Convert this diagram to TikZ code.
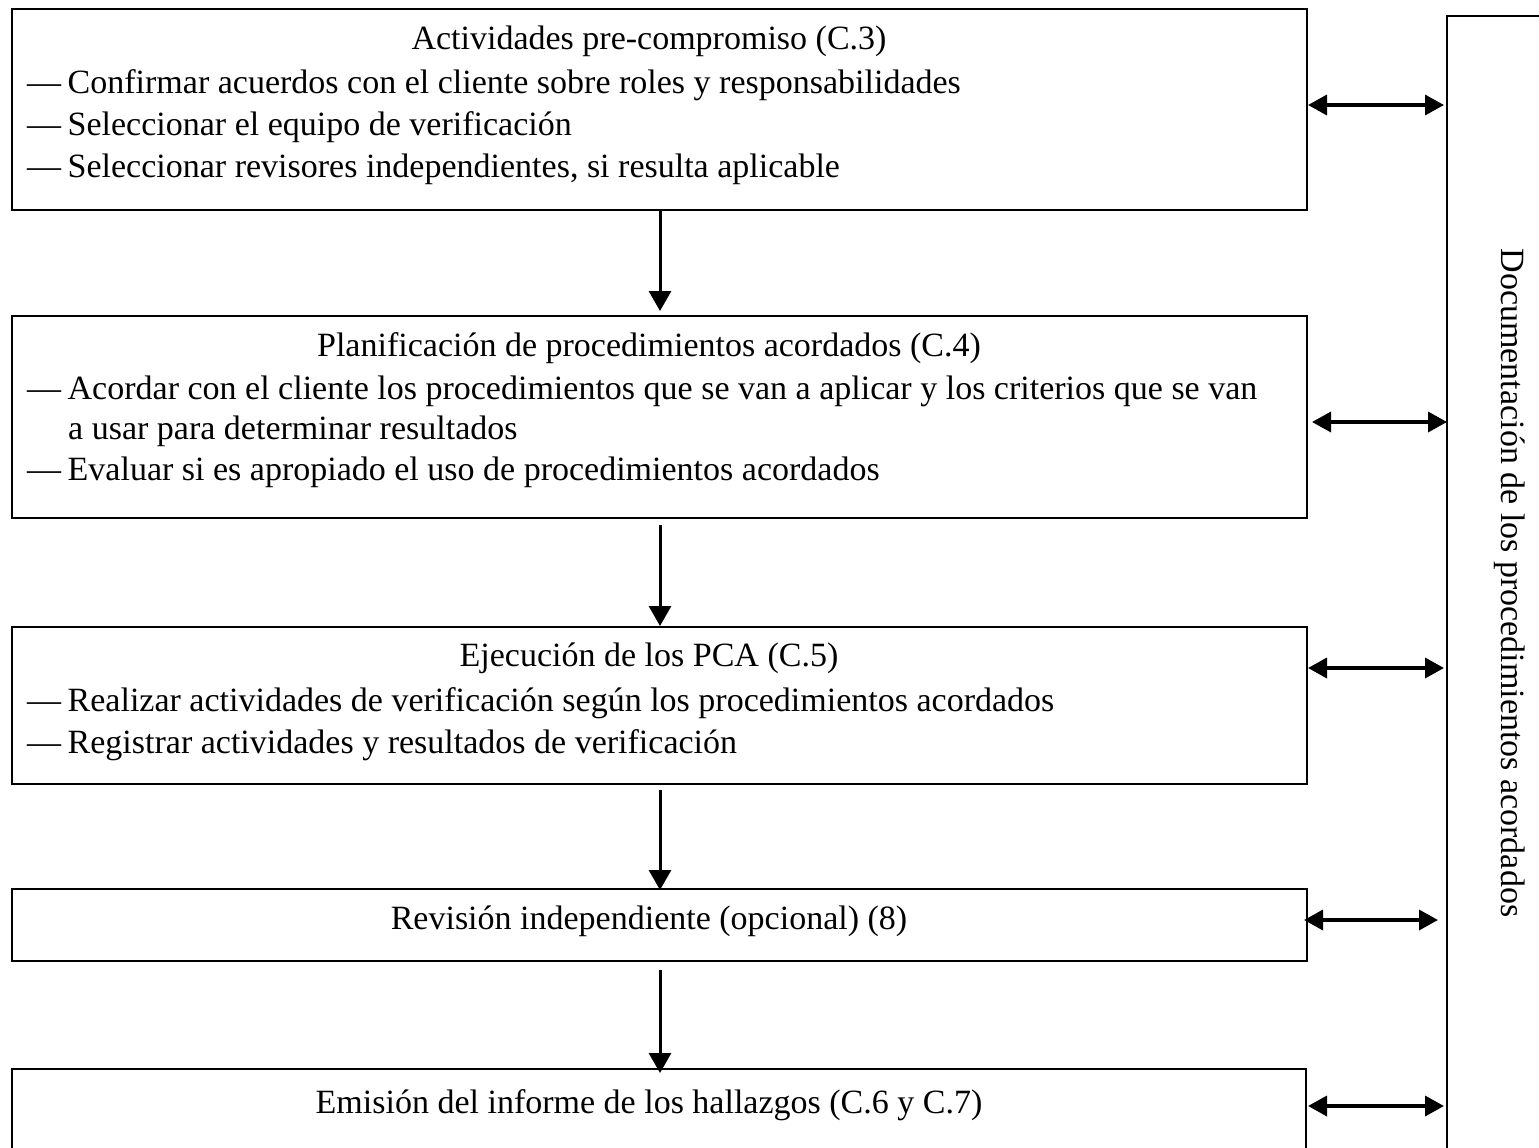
\documentclass[tikz,border=0pt]{standalone}
\usepackage{fontspec}
\setmainfont{Liberation Serif}
\usetikzlibrary{arrows.meta}
\begin{document}
\begin{tikzpicture}[x=1pt,y=-1pt,
  box/.style={draw, line width=2.2pt, inner sep=0pt, anchor=north west},
  txt/.style={anchor=base west, inner sep=0pt, font=\fontsize{34}{42}\selectfont},
  ttl/.style={anchor=base, inner sep=0pt, font=\fontsize{34}{42}\selectfont},
  flow/.style={line width=3pt, -{Triangle[length=20pt,width=22pt]}},
  link/.style={line width=3.5pt, {Triangle[length=19pt,width=20pt]}-{Triangle[length=19pt,width=20pt]}}
]
\useasboundingbox (0,0) rectangle (1539,1148);
% boxes
\node[box, minimum width=1295pt, minimum height=201pt] (b1) at (11,8) {};
\node[box, minimum width=1295pt, minimum height=202pt] (b2) at (11,315) {};
\node[box, minimum width=1295pt, minimum height=157pt] (b3) at (11,626) {};
\node[box, minimum width=1295pt, minimum height=72pt] (b4) at (11,888) {};
\node[box, minimum width=1294pt, minimum height=90pt] (b5) at (11,1068) {};
\node[box, minimum width=200pt, minimum height=1200pt] (doc) at (1446,15) {};
% texts box 1
\node[ttl] (t1) at (649,49) {Actividades pre-compromiso (C.3)};
\node[txt] (t1a) at (27,93) {—\hspace{-2pt} Confirmar acuerdos con el cliente sobre roles y responsabilidades};
\node[txt] (t1b) at (27,135) {—\hspace{-2pt} Seleccionar el equipo de verificación};
\node[txt] (t1c) at (27,177) {—\hspace{-2pt} Seleccionar revisores independientes, si resulta aplicable};
% box 2
\node[ttl] (t2) at (649,356) {Planificación de procedimientos acordados (C.4)};
\node[txt] (t2a) at (27,399) {—\hspace{-2pt} Acordar con el cliente los procedimientos que se van a aplicar y los criterios que se van};
\node[txt] (t2b) at (68,439) {a usar para determinar resultados};
\node[txt] (t2c) at (27,480) {—\hspace{-2pt} Evaluar si es apropiado el uso de procedimientos acordados};
% box 3
\node[ttl] (t3) at (649,666) {Ejecución de los PCA (C.5)};
\node[txt] (t3a) at (27,711) {—\hspace{-2pt} Realizar actividades de verificación según los procedimientos acordados};
\node[txt] (t3b) at (27,753) {—\hspace{-2pt} Registrar actividades y resultados de verificación};
% box 4
\node[ttl] (t4) at (649,929) {Revisión independiente (opcional) (8)};
% box 5
\node[ttl] (t5) at (649,1113) {Emisión del informe de los hallazgos (C.6 y C.7)};
% side text
\node[rotate=-90, inner sep=0pt, font=\fontsize{34}{40}\selectfont] (side) at (1510,583) {Documentación de los procedimientos acordados};
% flow arrows
\coordinate (a1s) at (660,209); \coordinate (a1e) at (660,311);
\coordinate (a2s) at (660,525); \coordinate (a2e) at (660,626);
\coordinate (a3s) at (660,790); \coordinate (a3e) at (660,890);
\coordinate (a4s) at (660,970); \coordinate (a4e) at (660,1073);
\draw[flow] (a1s) -- (a1e);
\draw[flow] (a2s) -- (a2e);
\draw[flow] (a3s) -- (a3e);
\draw[flow] (a4s) -- (a4e);
% links
\draw[link] (1308,105) -- (1444,105);
\draw[link] (1312,422) -- (1447,422);
\draw[link] (1308,668) -- (1444,668);
\draw[link] (1304,920) -- (1438,920);
\draw[link] (1308,1106) -- (1444,1106);
\end{tikzpicture}
\end{document}
